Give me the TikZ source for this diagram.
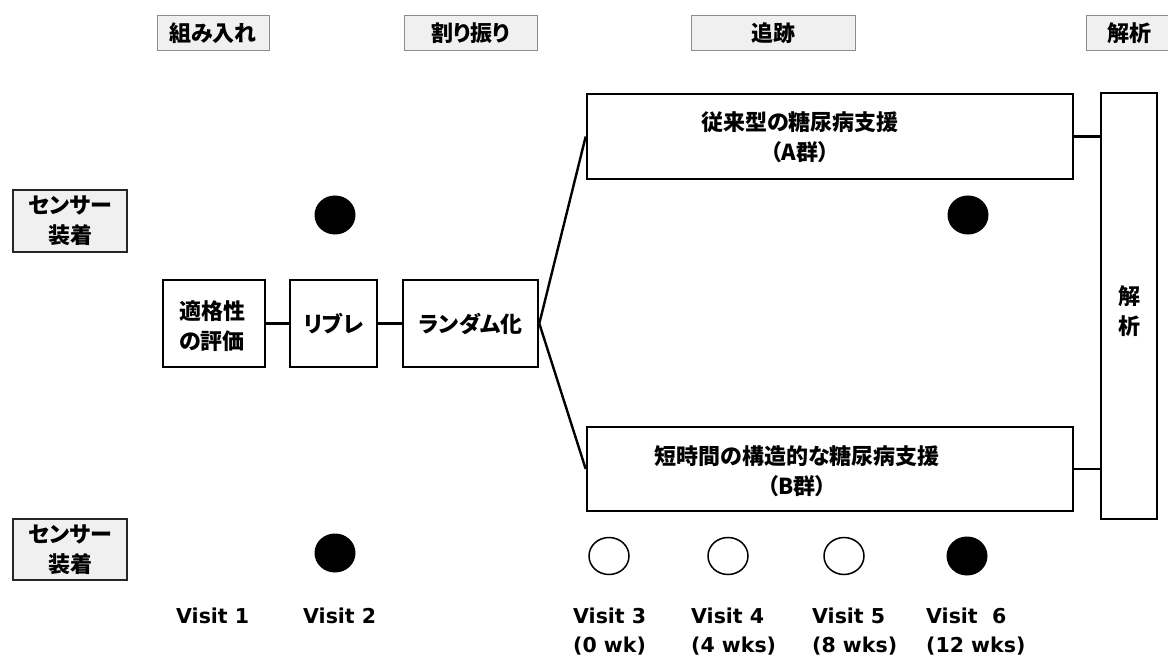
\documentclass[tikz,border=0pt]{standalone}
\usepackage{fontspec}
\setmainfont{Noto Sans CJK JP}[RawFeature=+palt]
\newfontfamily\lat{DejaVu Sans}
\usetikzlibrary{shapes.geometric}
\begin{document}
\begin{tikzpicture}[x=1pt,y=-1pt,
  every node/.style={font=\fontsize{22}{30}\selectfont\bfseries, inner sep=0pt},
  hdr/.style={draw=black!45, fill=black!6, line width=1pt},
  sens/.style={draw=black!85, fill=black!6, line width=1.3pt},
  box/.style={draw=black, line width=2.6pt, fill=white},
  btext/.style={align=center},
  link/.style={draw=black, line width=2.4pt},
  dot/.style={ellipse, draw=black, fill=black, minimum width=40pt, minimum height=38pt, line width=1pt},
  odot/.style={ellipse, draw=black, fill=white, minimum width=40pt, minimum height=37pt, line width=1.5pt},
  vis/.style={font=\lat\fontsize{20.5}{29}\selectfont\bfseries, align=left, anchor=north west}
]
\useasboundingbox (0,0) rectangle (1168,658);
% headers
\node[hdr, minimum width=112pt, minimum height=35pt] (h1) at (213,33.5) {組み入れ};
\node[hdr, minimum width=133pt, minimum height=35pt] (h2) at (470.5,33.5) {割り振り};
\node[hdr, minimum width=164pt, minimum height=35pt] (h3) at (773.5,33.5) {追跡};
\node[hdr, minimum width=86pt, minimum height=35pt] (h4) at (1129,33.5) {解析};
% sensor boxes
\node[sens, minimum width=114pt, minimum height=62pt, align=center] (s1) at (70,221) {センサー\\装着};
\node[sens, minimum width=114pt, minimum height=61pt, align=center] (s2) at (70,549.5) {センサー\\装着};
% flow boxes
\node[box, minimum width=102pt, minimum height=87pt, align=center] (e) at (214,323.5) {};
\node[btext] (et) at (212,326) {適格性\\の評価};
\node[box, minimum width=87pt, minimum height=87pt] (r) at (333.5,323.5) {リブレ};
\node[box, minimum width=135pt, minimum height=87pt] (rd) at (470.5,323.5) {ランダム化};
\node[box, minimum width=486pt, minimum height=85pt] (a) at (830,136.5) {};
\node[btext] (at) at (800,137.5) {従来型の糖尿病支援\\（A群）};
\node[box, minimum width=486pt, minimum height=84pt] (b) at (830,469) {};
\node[btext] (bt) at (797,471) {短時間の構造的な糖尿病支援\\（B群）};
\node[box, minimum width=56pt, minimum height=426pt] (an) at (1129,306) {};
\node[btext] (ant) at (1129,311) {解\\析};
% connectors
\draw[link] (e.east) -- (r.west);
\draw[link] (r.east) -- (rd.west);
\draw[link] (rd.east) -- (a.west);
\draw[link] (rd.east) -- (b.west);
\draw[link] (a.east) -- (an.west |- a.east);
\draw[link] (b.east) -- (an.west |- b.east);
% dots
\node[dot] (d1) at (335,215) {};
\node[dot] (d2) at (968,215) {};
\node[dot] (d3) at (335,553) {};
\node[odot] (o1) at (609,556) {};
\node[odot] (o2) at (728,556) {};
\node[odot] (o3) at (844,556) {};
\node[dot] (d4) at (967,556) {};
% visits
\node[vis] (v1) at (176,608) {Visit 1};
\node[vis] (v2) at (303,608) {Visit 2};
\node[vis] (v3) at (573,608) {Visit 3\\(0 wk)};
\node[vis] (v4) at (691,608) {Visit 4\\(4 wks)};
\node[vis] (v5) at (812,608) {Visit 5\\(8 wks)};
\node[vis] (v6) at (926,608) {Visit \ 6\\(12 wks)};
\end{tikzpicture}
\end{document}
